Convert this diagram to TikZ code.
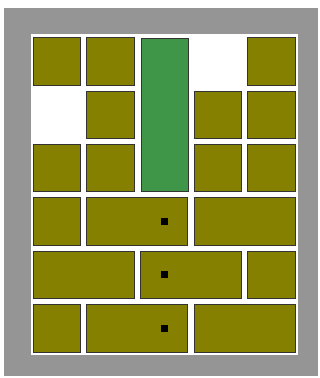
\documentclass[tikz,border=0pt]{standalone}
\begin{document}
\begin{tikzpicture}[x=1pt,y=-1pt,
  blk/.style={draw=black!80, line width=0.9pt, fill=olivec, minimum height=47.3pt, anchor=north west, inner sep=0pt, outer sep=0pt},
  single/.style={blk, minimum width=47.3pt},
  double/.style={blk, minimum width=100.9pt},
  grn/.style={draw=black!80, line width=0.9pt, fill=greenc, minimum width=47.3pt, minimum height=153.6pt, anchor=north west, inner sep=0pt},
  dotm/.style={fill=black, minimum size=7pt, inner sep=0pt, draw=none}]
\definecolor{olivec}{RGB}{134,128,0}
\definecolor{greenc}{RGB}{64,150,72}
\definecolor{grayc}{RGB}{149,149,149}
\useasboundingbox (0,0) rectangle (320,378);
\fill[white] (0,0) rectangle (320,378);
\fill[grayc] (4,8) rectangle (318,376);
\fill[white] (31,34) rectangle (298,355);
% row 1
\node[single] (r1a) at (33.3,37.7) {};
\node[single] (r1b) at (86.9,37.7) {};
\node[grn] (g) at (140.5,37.7) {};
\node[single] (r1e) at (247.7,37.7) {};
% row 2
\node[single] (r2b) at (86.9,91.1) {};
\node[single] (r2d) at (194.1,91.1) {};
\node[single] (r2e) at (247.7,91.1) {};
% row 3
\node[single] (r3a) at (33.3,144.5) {};
\node[single] (r3b) at (86.9,144.5) {};
\node[single] (r3d) at (194.1,144.5) {};
\node[single] (r3e) at (247.7,144.5) {};
% row 4
\node[single] (r4a) at (33.3,197.9) {};
\node[double] (r4b) at (86.9,197.9) {};
\node[double] (r4d) at (194.1,197.9) {};
% row 5
\node[double] (r5a) at (33.3,251.3) {};
\node[double] (r5c) at (140.5,251.3) {};
\node[single] (r5e) at (247.7,251.3) {};
% row 6
\node[single] (r6a) at (33.3,304.7) {};
\node[double] (r6b) at (86.9,304.7) {};
\node[double] (r6d) at (194.1,304.7) {};
% dots
\node[dotm] (d4) at (164.2,221.5) {};
\node[dotm] (d5) at (164.2,274.9) {};
\node[dotm] (d6) at (164.2,328.3) {};
\end{tikzpicture}
\end{document}
